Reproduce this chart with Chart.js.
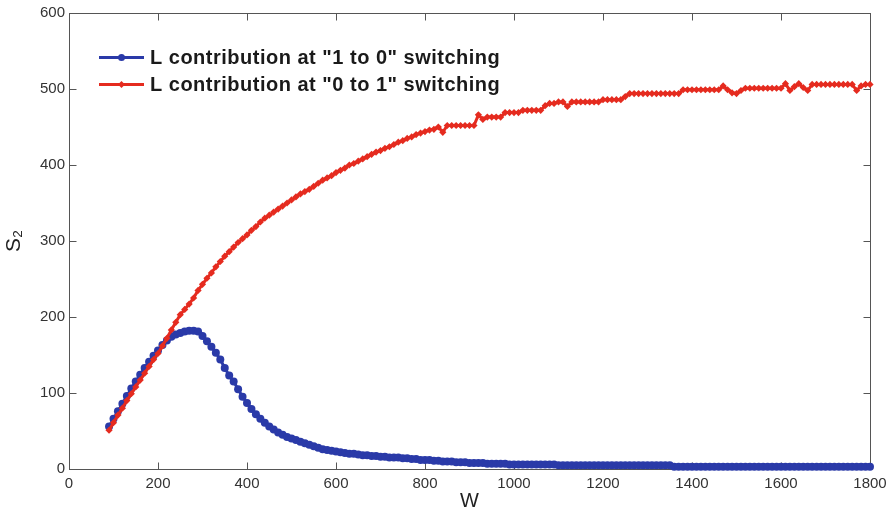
<!DOCTYPE html>
<html>
<head>
<meta charset="utf-8">
<script src="https://cdn.jsdelivr.net/npm/chart.js@4/dist/chart.umd.min.js"></script>
<style>
  html, body { margin: 0; padding: 0; background: #fff; }
  #wrap { width: 895px; height: 515px; }
</style>
</head>
<body>
<div id="wrap"><canvas id="c" width="895" height="515"></canvas></div>
<script>
// ---- data ----
const W = [
  90,100,110,120,130,140,150,160,170,180,190,200,210,220,230,240,250,260,270,280,
  290,300,310,320,330,340,350,360,370,380,390,400,410,420,430,440,450,460,470,480,
  490,500,510,520,530,540,550,560,570,580,590,600,610,620,630,640,650,660,670,680,
  690,700,710,720,730,740,750,760,770,780,790,800,810,820,830,840,850,860,870,880,
  890,900,910,920,930,940,950,960,970,980,990,1000,1010,1020,1030,1040,1050,1060,1070,1080,
  1090,1100,1110,1120,1130,1140,1150,1160,1170,1180,1190,1200,1210,1220,1230,1240,1250,1260,1270,1280,
  1290,1300,1310,1320,1330,1340,1350,1360,1370,1380,1390,1400,1410,1420,1430,1440,1450,1460,1470,1480,
  1490,1500,1510,1520,1530,1540,1550,1560,1570,1580,1590,1600,1610,1620,1630,1640,1650,1660,1670,1680,
  1690,1700,1710,1720,1730,1740,1750,1760,1770,1780,1790,1800
];
const S2_1to0 = [
  56,66,76,86,96,106,115,124,133,141,149,156,163,169,174,177,179,181,182,182,
  181,175,168,161,153,144,133,123,115,105,95,87,79,72,66,61,56,52,48,45,
  42,40,38,36,34,32,30,28,26,25,24,23,22,21,20,20,19,18,18,17,
  17,16,16,15,15,15,14,14,13,13,12,12,12,11,11,10,10,10,9,9,
  9,8,8,8,8,7,7,7,7,7,6,6,6,6,6,6,6,6,6,6,
  6,5,5,5,5,5,5,5,5,5,5,5,5,5,5,5,5,5,5,5,
  5,5,5,5,5,5,5,3,3,3,3,3,3,3,3,3,3,3,3,3,
  3,3,3,3,3,3,3,3,3,3,3,3,3,3,3,3,3,3,3,3,
  3,3,3,3,3,3,3,3,3,3,3,3
];
const S2_0to1 = [
  51,61,71,80,90,99,108,117,126,135,144,152,162,172,183,193,203,210,217,225,
  235,243,251,258,266,273,280,286,292,298,303,308,314,319,325,330,334,338,342,346,
  350,354,358,362,365,368,372,376,380,383,386,390,393,396,400,402,405,408,411,414,
  417,419,422,424,427,430,432,435,437,440,442,444,446,447,450,443,452,452,452,452,
  452,452,452,466,460,463,463,463,463,469,469,469,469,472,472,472,472,472,478,481,
  481,483,483,477,483,483,483,483,483,483,483,486,486,486,486,486,490,494,494,494,
  494,494,494,494,494,494,494,494,494,499,499,499,499,499,499,499,499,499,504,499,
  495,494,498,501,501,501,501,501,501,501,501,501,507,498,503,507,502,498,506,506,
  506,506,506,506,506,506,506,506,498,504,506,506
];
const seriesLabels = ['L contribution at "1 to 0" switching', 'L contribution at "0 to 1" switching'];
const xTicks = [0,200,400,600,800,1000,1200,1400,1600,1800];
const yTicks = [0,100,200,300,400,500,600];

const BLUE = '#2a3aa8';
const RED = '#e52b1f';

const framePlugin = {
  id: 'frame',
  beforeDatasetsDraw(chart) {
    const { ctx, chartArea: a, scales: { x, y } } = chart;
    ctx.save();
    ctx.strokeStyle = '#555';
    ctx.lineWidth = 1;
    const L = Math.round(a.left) + 0.5, R = Math.round(a.right) + 0.5;
    const T = Math.round(a.top) + 0.5, B = Math.round(a.bottom) + 0.5;
    ctx.strokeRect(L, T, R - L, B - T);
    ctx.beginPath();
    xTicks.forEach(v => {
      const px = Math.round(x.getPixelForValue(v)) + 0.5;
      ctx.moveTo(px, B); ctx.lineTo(px, B - 7);
      ctx.moveTo(px, T); ctx.lineTo(px, T + 7);
    });
    yTicks.forEach(v => {
      const py = Math.round(y.getPixelForValue(v)) + 0.5;
      ctx.moveTo(L, py); ctx.lineTo(L + 7, py);
      ctx.moveTo(R, py); ctx.lineTo(R - 7, py);
    });
    ctx.stroke();
    ctx.restore();
  },
  afterDraw(chart) {
    const { ctx } = chart;
    const rows = [
      { label: seriesLabels[0], color: BLUE, y: 57.5, style: 'circle' },
      { label: seriesLabels[1], color: RED, y: 84.5, style: 'diamond' }
    ];
    ctx.save();
    rows.forEach(r => {
      ctx.strokeStyle = r.color;
      ctx.fillStyle = r.color;
      ctx.lineWidth = 3;
      ctx.beginPath();
      ctx.moveTo(99, r.y); ctx.lineTo(144, r.y);
      ctx.stroke();
      ctx.beginPath();
      if (r.style === 'circle') {
        ctx.arc(121.5, r.y, 3.5, 0, Math.PI * 2);
      } else {
        ctx.moveTo(121.5, r.y - 3.5); ctx.lineTo(125, r.y);
        ctx.lineTo(121.5, r.y + 3.5); ctx.lineTo(118, r.y); ctx.closePath();
      }
      ctx.fill();
      ctx.fillStyle = '#1a1a1a';
      ctx.font = 'bold 20px "Liberation Sans", Arial, sans-serif';
      if ('letterSpacing' in ctx) ctx.letterSpacing = '0.5px';
      ctx.textBaseline = 'middle';
      ctx.textAlign = 'left';
      ctx.fillText(r.label, 150, r.y + 1);
    });
    ctx.restore();
  }
};

const tickFont = { family: '"Liberation Sans", Arial, sans-serif', size: 15 };

new Chart(document.getElementById('c'), {
  type: 'line',
  data: {
    datasets: [
      {
        label: seriesLabels[0],
        data: W.map((w, i) => ({ x: w, y: S2_1to0[i] })),
        borderColor: BLUE,
        backgroundColor: BLUE,
        borderWidth: 3,
        pointStyle: 'circle',
        pointRadius: 4,
        pointBorderWidth: 0,
        pointBackgroundColor: BLUE,
        clip: false,
        order: 1
      },
      {
        label: seriesLabels[1],
        data: W.map((w, i) => ({ x: w, y: S2_0to1[i] })),
        borderColor: RED,
        backgroundColor: RED,
        borderWidth: 3,
        pointStyle: 'rectRot',
        pointRadius: 3.6,
        pointBorderWidth: 0,
        pointBackgroundColor: RED,
        clip: false,
        order: 0
      }
    ]
  },
  options: {
    responsive: false,
    animation: false,
    devicePixelRatio: 1,
    layout: { padding: { left: 0, top: 13, right: 25, bottom: 0 } },
    plugins: { legend: { display: false }, tooltip: { enabled: false } },
    scales: {
      x: {
        type: 'linear',
        min: 0, max: 1800,
        afterBuildTicks: s => { s.ticks = xTicks.map(v => ({ value: v })); },
        afterFit: s => { s.height = 46; },
        grid: { display: false, drawTicks: false },
        border: { display: false },
        ticks: { color: '#333', font: tickFont, padding: 6, autoSkip: false, maxRotation: 0, callback: v => String(v) },
        title: { display: true, text: 'W', color: '#222', font: { family: '"Liberation Sans", Arial, sans-serif', size: 20 }, padding: { top: 0, bottom: 2 } }
      },
      y: {
        type: 'linear',
        min: 0, max: 600,
        afterBuildTicks: s => { s.ticks = yTicks.map(v => ({ value: v })); },
        afterFit: s => { s.width = 69; },
        grid: { display: false, drawTicks: false },
        border: { display: false },
        ticks: { color: '#333', font: tickFont, padding: 4, callback: v => String(v) },
        title: { display: true, text: 'S\u2082', color: '#222', font: { family: '"Liberation Sans", Arial, sans-serif', size: 21 }, padding: { top: 2, bottom: 0 } }
      }
    }
  },
  plugins: [framePlugin]
});
</script>
</body>
</html>
